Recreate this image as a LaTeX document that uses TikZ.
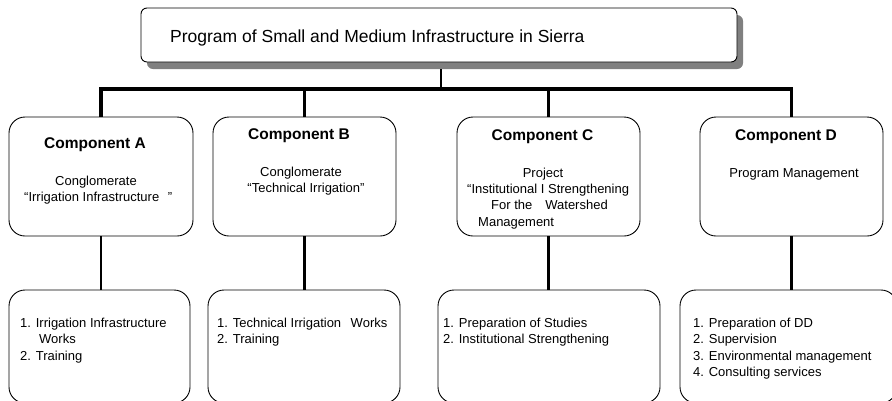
\documentclass[tikz,border=0pt]{standalone}
\usepackage{fontspec}
\setmainfont{Liberation Sans}
\usetikzlibrary{shadows}
\begin{document}
\begin{tikzpicture}[x=1pt,y=-1pt,
  box/.style={draw=black, line width=0.9pt, fill=white, rounded corners=16pt, inner sep=0pt},
  titlebox/.style={box, rounded corners=6pt,
    drop shadow={shadow xshift=6pt, shadow yshift=-7pt, fill=black!50, draw=none, opacity=1}},
  compbox/.style={box, minimum height=119pt},
  listbox/.style={box, minimum height=113pt},
  conn/.style={draw=black, line width=2.8pt},
  busline/.style={draw=black, line width=3.3pt, line join=miter},
  txt/.style={font=\fontsize{13}{16}\selectfont, inner sep=0pt, anchor=base west},
  ctxt/.style={txt, anchor=base},
  head/.style={font=\fontsize{15.5}{18}\selectfont\bfseries, inner sep=0pt, anchor=base},
  ttl/.style={font=\fontsize{17.5}{20}\selectfont, inner sep=0pt, anchor=base west}]
\useasboundingbox (0,0) rectangle (892,400);

% programme header
\node[titlebox, minimum width=596pt, minimum height=54pt] (top) at (439,35) {};
\node[ttl] (toptext) at (170,42) {Program of Small and Medium Infrastructure in Sierra};

% component boxes
\node[compbox, minimum width=184pt] (cA) at (101,176.5) {};
\node[compbox, minimum width=183pt] (cB) at (304.5,176.5) {};
\node[compbox, minimum width=183pt] (cC) at (548.5,176.5) {};
\node[compbox, minimum width=183pt] (cD) at (791.5,176.5) {};

% activity boxes
\node[listbox, minimum width=181pt] (bA) at (99.5,346.5) {};
\node[listbox, minimum width=192pt] (bB) at (304,346.5) {};
\node[listbox, minimum width=222pt] (bC) at (549,346.5) {};
\node[listbox, minimum width=217pt] (bD) at (788.5,346.5) {};

% connectors
\coordinate (bus) at (0,89);
\draw[conn] ([xshift=2pt,yshift=-7pt]top.south) -- ([xshift=2pt]top.south |- bus);
\draw[busline] (cA.north) -- (cA.north |- bus) -- (cD.north |- bus) -- (cD.north);
\draw[conn] (cB.north |- bus) -- (cB.north);
\draw[conn] (cC.north |- bus) -- (cC.north);
\foreach \c in {A,B,C,D}
  \draw[conn] (c\c.south) -- (c\c.south |- b\c.north);

% component A
\node[head] (hA) at (95,148.5) {Component A};
\node[ctxt] (tA1) at (96,185.5) {Conglomerate};
\node[txt] (tA2) at (24,201.5) {“Irrigation Infrastructure\hspace{8.5pt}”};

% component B
\node[head] (hB) at (299,139.5) {Component B};
\node[ctxt] (tB1) at (301,176.5) {Conglomerate};
\node[ctxt] (tB2) at (306,192.5) {“Technical Irrigation”};

% component C
\node[head] (hC) at (542.5,140.5) {Component C};
\node[ctxt] (tC1) at (543,177.5) {Project};
\node[txt] (tC2) at (467,193.5) {“Institutional I Strengthening};
\node[txt] (tC3) at (491,209.5) {For the\hspace{13pt}Watershed};
\node[txt] (tC4) at (478,226) {Management};

% component D
\node[head] (hD) at (786,140.5) {Component D};
\node[ctxt] (tD1) at (794,177.5) {Program Management};

% activity lists
\node[txt] (lA1) at (20,327.5) {1. Irrigation Infrastructure};
\node[txt] (lA2) at (39,343.8) {Works};
\node[txt] (lA3) at (20,360.1) {2. Training};

\node[txt] (lB1) at (217,327.5) {1. Technical Irrigation\hspace{9.5pt}Works};
\node[txt] (lB2) at (217,343.8) {2. Training};

\node[txt] (lC1) at (443,327.5) {1. Preparation of Studies};
\node[txt] (lC2) at (443,343.8) {2. Institutional Strengthening};

\node[txt] (lD1) at (693,327.5) {1. Preparation of DD};
\node[txt] (lD2) at (693,343.8) {2. Supervision};
\node[txt] (lD3) at (693,360.1) {3. Environmental management};
\node[txt] (lD4) at (693,376.4) {4. Consulting services};
\end{tikzpicture}
\end{document}
